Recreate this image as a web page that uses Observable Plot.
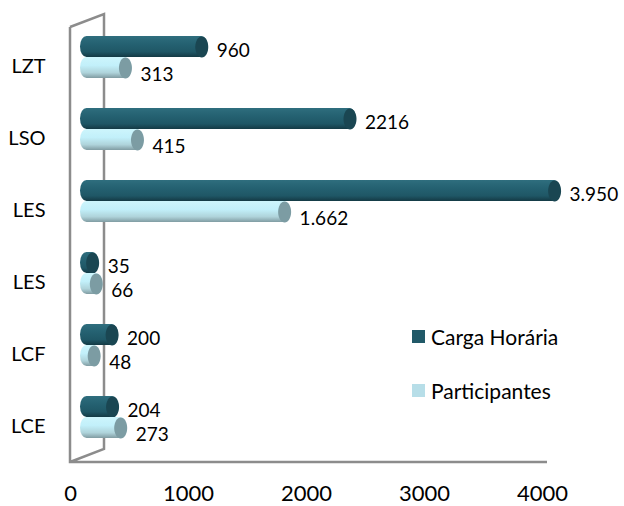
<!DOCTYPE html>
<html>
<head>
<meta charset="utf-8">
<script src="https://cdn.jsdelivr.net/npm/d3@7"></script>
<script src="https://cdn.jsdelivr.net/npm/@observablehq/plot@0.6"></script>
<style>
  html, body { margin: 0; padding: 0; background: #fff; }
  #wrap { position: relative; width: 624px; height: 506px; font-family: Lato, "Open Sans", sans-serif; }
  #legend { position: absolute; left: 412px; top: 323px; font-size: 21px; color: #000; }
  #legend .item { display: flex; align-items: center; height: 27px; margin-bottom: 27px; }
  #legend .sw { width: 13px; height: 13px; margin-right: 6px; }
</style>
</head>
<body>
<div id="wrap"></div>
<script>
const categories = ["LZT", "LSO", "LES", "LES", "LCF", "LCE"];
const cargaHoraria = [960, 2216, 3950, 35, 200, 204];
const participantes = [313, 415, 1662, 66, 48, 273];
const cargaLabels = ["960", "2216", "3.950", "35", "200", "204"];
const participantesLabels = ["313", "415", "1.662", "66", "48", "273"];
const seriesNames = ["Carga Horária", "Participantes"];
const xTicks = [0, 1000, 2000, 3000, 4000];
const legendColors = ["#215968", "#B7DEE8"];

const rows = [];
categories.forEach((c, i) => {
  rows.push({i, serie: seriesNames[0], value: cargaHoraria[i], label: cargaLabels[i]});
  rows.push({i, serie: seriesNames[1], value: participantes[i], label: participantesLabels[i]});
});
const dark = rows.filter(d => d.serie === seriesNames[0]);
const light = rows.filter(d => d.serie === seriesNames[1]);

const DX = 18;          // depth offset of the bars
const RX = 6.5, RY = 10.5;

function ellipseSymbol() {
  return {
    draw(ctx) {
      const k = 0.5523;
      ctx.moveTo(RX, 0);
      ctx.bezierCurveTo(RX, RY * k, RX * k, RY, 0, RY);
      ctx.bezierCurveTo(-RX * k, RY, -RX, RY * k, -RX, 0);
      ctx.bezierCurveTo(-RX, -RY * k, -RX * k, -RY, 0, -RY);
      ctx.bezierCurveTo(RX * k, -RY, RX, -RY * k, RX, 0);
      ctx.closePath();
    }
  };
}

function defsMark() {
  const g = d3.create("svg:g");
  const defs = g.append("defs");
  const gd = defs.append("linearGradient").attr("id", "gDark").attr("x1", 0).attr("y1", 0).attr("x2", 0).attr("y2", 1);
  [[0, "#2f6e7e"], [0.35, "#256272"], [0.75, "#1f5766"], [1, "#143a44"]].forEach(([o, c]) =>
    gd.append("stop").attr("offset", o).attr("stop-color", c));
  const gl = defs.append("linearGradient").attr("id", "gLight").attr("x1", 0).attr("y1", 0).attr("x2", 0).attr("y2", 1);
  [[0, "#cdf5fc"], [0.4, "#c2f0fa"], [0.75, "#afd3da"], [1, "#809ca2"]].forEach(([o, c]) =>
    gl.append("stop").attr("offset", o).attr("stop-color", c));
  return g.node();
}

function frameMark(index, scales, values, dim) {
  const x0 = scales.x(0), x4 = scales.x(4000);
  const yb = dim.height - dim.marginBottom + 9;
  const yt = dim.marginTop + 6;
  const ddx = 34, ddy = -13;
  const g = d3.create("svg:g");
  g.append("path")
    .attr("d", `M${x0},${yt}L${x0 + ddx},${yt + ddy}L${x0 + ddx},${yb + ddy}L${x0},${yb}` +
               `M${x0},${yt}L${x0},${yb}L${x4 + 5},${yb}`)
    .attr("fill", "none").attr("stroke", "#8c8c8c").attr("stroke-width", 2.5);
  return g.node();
}

const chart = Plot.plot({
  width: 624,
  height: 506,
  marginLeft: 70,
  marginRight: 82,
  marginTop: 21,
  marginBottom: 53,
  style: {fontFamily: "Lato, 'Open Sans', sans-serif", background: "#fff", color: "#000"},
  x: {domain: [0, 4000]},
  y: {domain: categories.map((c, i) => i), padding: 0},
  marks: [
    defsMark,
    frameMark,
    Plot.axisY({tickSize: 0, tickPadding: 25, fontSize: 20, dy: 9, label: null, tickFormat: i => categories[i]}),
    Plot.axisX({ticks: xTicks, tickSize: 0, tickPadding: 32, fontSize: 22, label: null, tickFormat: d => String(d)}),
    Plot.barX(dark, {x1: 0, x2: "value", y: "i", dx: DX, insetTop: 15, insetBottom: 36,
      insetLeft: -8, insetRight: -RX, rx: RX, ry: RY, fill: "url(#gDark)"}),
    Plot.dot(dark, {x: "value", y: "i", dx: DX, dy: -RY, symbol: ellipseSymbol(), r: 5, fill: "#1a4652", stroke: "none"}),
    Plot.barX(light, {x1: 0, x2: "value", y: "i", dx: DX, insetTop: 36, insetBottom: 15,
      insetLeft: -8, insetRight: -RX, rx: RX, ry: RY, fill: "url(#gLight)"}),
    Plot.dot(light, {x: "value", y: "i", dx: DX, dy: RY, symbol: ellipseSymbol(), r: 5, fill: "#7c9ca3", stroke: "none"}),
    Plot.text(dark, {x: "value", y: "i", text: "label", dx: DX + 15, dy: -7, textAnchor: "start", fontSize: 19, fill: "#000"}),
    Plot.text(light, {x: "value", y: "i", text: "label", dx: DX + 15, dy: 17, textAnchor: "start", fontSize: 19, fill: "#000"})
  ]
});

const wrap = document.getElementById("wrap");
wrap.appendChild(chart);
const legend = document.createElement("div");
legend.id = "legend";
seriesNames.forEach((s, k) => {
  const it = document.createElement("div");
  it.className = "item";
  const sw = document.createElement("span");
  sw.className = "sw";
  sw.style.background = legendColors[k];
  const tx = document.createElement("span");
  tx.textContent = s;
  it.appendChild(sw); it.appendChild(tx);
  legend.appendChild(it);
});
wrap.appendChild(legend);
</script>
</body>
</html>
